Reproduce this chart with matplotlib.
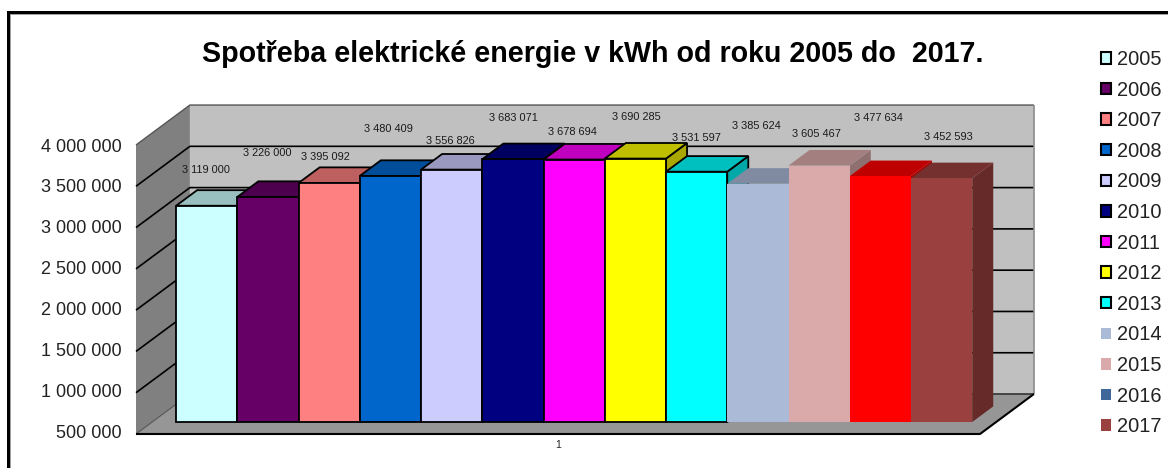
import matplotlib
matplotlib.use("Agg")
import matplotlib.pyplot as plt
from matplotlib.patches import Polygon, Patch, Rectangle
from matplotlib.lines import Line2D
from matplotlib.colors import to_rgb
from matplotlib.transforms import ScaledTranslation

plt.rcParams['font.family'] = ['Liberation Sans', 'DejaVu Sans']

years = ['2005', '2006', '2007', '2008', '2009', '2010', '2011',
         '2012', '2013', '2014', '2015', '2016', '2017']
values = [3119000, 3226000, 3395092, 3480409, 3556826, 3683071, 3678694,
          3690285, 3531597, 3385624, 3605467, 3477634, 3452593]
y_ticks = [500000, 1000000, 1500000, 2000000, 2500000, 3000000, 3500000, 4000000]
title = 'Spotřeba elektrické energie v kWh od roku 2005 do  2017.'

bar_colors = ['#CCFFFF', '#660066', '#FF8080', '#0066CC', '#CCCCFF', '#000080', '#FF00FF',
              '#FFFF00', '#00FFFF', '#AABAD7', '#D9AAA9', '#FF0000', '#9A403E']
legend_colors = bar_colors[:11] + ['#3F689A', '#9A403E']
outlined = 9  # the first nine series have a black outline

# label offsets from the bar's top-centre, in pixels (layout only)
label_dx = [-1, -1, -3.6, -1.7, -1, 0.7, -1.7, 0.7, 0, -1.7, -3, -2, 7]
label_dy = [35.7, 43.6, 25.7, 46.6, 28.9, 40.9, 27.5, 41.9, 33.4, 58, 31.3, 57.8, 41.2]

W, H = 1168, 468
fig = plt.figure(figsize=(W / 100, H / 100), dpi=100)
fig.patch.set_facecolor('white')
ax = fig.add_axes([136 / W, (H - 434) / H, 844 / W, 289 / H])
ax.patch.set_visible(False)
for s in ax.spines.values():
    s.set_visible(False)
XMIN, XMAX = -0.891, 12.891
YMIN, YMAX = 500000, 4000000
ax.set_xlim(XMIN, XMAX)
ax.set_ylim(YMIN, YMAX)

DX = 0.88       # x shift of the full chart depth, data units
DY = 484000     # y shift of the full chart depth, data units


def pr(x, y, d):
    return (x + d * DX, y + d * DY)


def poly(pts, fc, ec='none', lw=0, z=1):
    ax.add_patch(Polygon(pts, closed=True, facecolor=fc, edgecolor=ec, linewidth=lw,
                         zorder=z, clip_on=False, joinstyle='miter'))


def line(pts, color='black', lw=1.1, z=2, ls='-'):
    xs, ys = zip(*pts)
    ax.add_line(Line2D(xs, ys, color=color, lw=lw, zorder=z, clip_on=False, ls=ls,
                       solid_capstyle='butt'))


# walls and floor
poly([pr(XMIN, YMIN, 1), pr(XMAX, YMIN, 1), pr(XMAX, YMAX, 1), pr(XMIN, YMAX, 1)], '#C0C0C0', z=1)
poly([pr(XMIN, YMIN, 0), pr(XMIN, YMIN, 1), pr(XMIN, YMAX, 1), pr(XMIN, YMAX, 0)], '#808080', z=1)
poly([pr(XMIN, YMIN, 0), pr(XMAX, YMIN, 0), pr(XMAX, YMIN, 1), pr(XMIN, YMIN, 1)], '#969696', z=1)
for v in y_ticks[1:-1]:
    line([pr(XMIN, v, 0), pr(XMIN, v, 1), pr(XMAX, v, 1)], lw=1.2)
line([pr(XMIN, YMAX, 0), pr(XMIN, YMAX, 1), pr(XMAX, YMAX, 1)],
     color='#555555', lw=1.0)
line([pr(XMAX, YMAX, 1), pr(XMAX, YMIN, 1)], color='#8c8c8c', lw=1.2)
line([pr(XMIN, YMIN, 1), pr(XMAX, YMIN, 1)], color='#333333', lw=1.2)
line([pr(XMIN, YMIN, 0), pr(XMIN, YMIN, 1)], color='#555555', lw=0.8)
line([pr(XMIN, YMIN, 0), pr(XMAX, YMIN, 0), pr(XMAX, YMIN, 1)], lw=1.5, z=3)

# bars: painted left to right, each with side, top and front
D0, D1 = 0.30, 0.69
for i, (v, c) in enumerate(zip(values, bar_colors)):
    l, r = i - 0.5, i + 0.5
    rgb = to_rgb(c)
    top = tuple(k * 0.75 for k in rgb)
    side = tuple(k * 0.66 for k in rgb)
    ec = 'black' if i < outlined else 'none'
    lw = 1.3 if i < outlined else 0
    z = 10 + i * 3
    poly([pr(r, YMIN, D0), pr(r, YMIN, D1), pr(r, v, D1), pr(r, v, D0)], side, ec, lw, z)
    poly([pr(l, v, D0), pr(r, v, D0), pr(r, v, D1), pr(l, v, D1)], top, ec, lw, z + 1)
    poly([pr(l, YMIN, D0), pr(r, YMIN, D0), pr(r, v, D0), pr(l, v, D0)], c, ec, lw, z + 2)
    ax.annotate(f'{v:,}'.replace(',', ' '), xy=pr(i, v, D0),
                xytext=(label_dx[i] * 0.72, label_dy[i] * 0.72), textcoords='offset points',
                ha='center', va='center', fontsize=7.9, color='#1a1a1a', zorder=100,
                annotation_clip=False)

# axes text
ax.set_yticks(y_ticks)
ax.set_yticklabels([f'{v:,}'.replace(',', ' ') for v in y_ticks], fontsize=13, color='#222222')
ax.set_xticks([6])
ax.set_xticklabels(['1'], fontsize=7.5, color='#222222')
ax.tick_params(axis='both', length=0)
ax.tick_params(axis='y', pad=10)
ax.tick_params(axis='x', pad=4.5)
for v, lab in zip(y_ticks, ax.get_yticklabels()):
    up = 2.5 * (YMAX - v) / (YMAX - YMIN) / 100
    lab.set_transform(lab.get_transform() + ScaledTranslation(0, up, fig.dpi_scale_trans))

fig.text(592.5 / W, 1 - 54 / H, title, ha='center', va='center', fontsize=20.6,
         fontweight='bold', color='black')

handles = [Patch(facecolor=c, edgecolor='black' if i < outlined else 'none',
                 linewidth=1.5 if i < outlined else 0)
           for i, c in enumerate(legend_colors)]
fig.legend(handles, years, loc='upper left', bbox_to_anchor=(1101 / W, 1 - 50 / H),
           frameon=False, fontsize=14.4, labelcolor='#222222', borderpad=0, borderaxespad=0,
           handlelength=0.5, handleheight=0.5, handletextpad=0.28, labelspacing=0.58, ncol=1)

# picture frame (top and left only, the rest lies outside the crop)
fig.add_artist(Rectangle((7 / W, 0), 2.5 / W, 1 - 11 / H, transform=fig.transFigure,
                         facecolor='black', edgecolor='none'))
fig.add_artist(Rectangle((7 / W, 1 - 13.5 / H), (W - 7) / W, 2.5 / H, transform=fig.transFigure,
                         facecolor='black', edgecolor='none'))
fig.add_artist(Rectangle((9.5 / W, 0), 1 / W, 1 - 13.5 / H, transform=fig.transFigure,
                         facecolor='#a0a0a0', edgecolor='none'))
fig.add_artist(Rectangle((9.5 / W, 1 - 14.5 / H), (W - 9.5) / W, 1 / H, transform=fig.transFigure,
                         facecolor='#a0a0a0', edgecolor='none'))

fig.savefig('out.png', dpi=100)
